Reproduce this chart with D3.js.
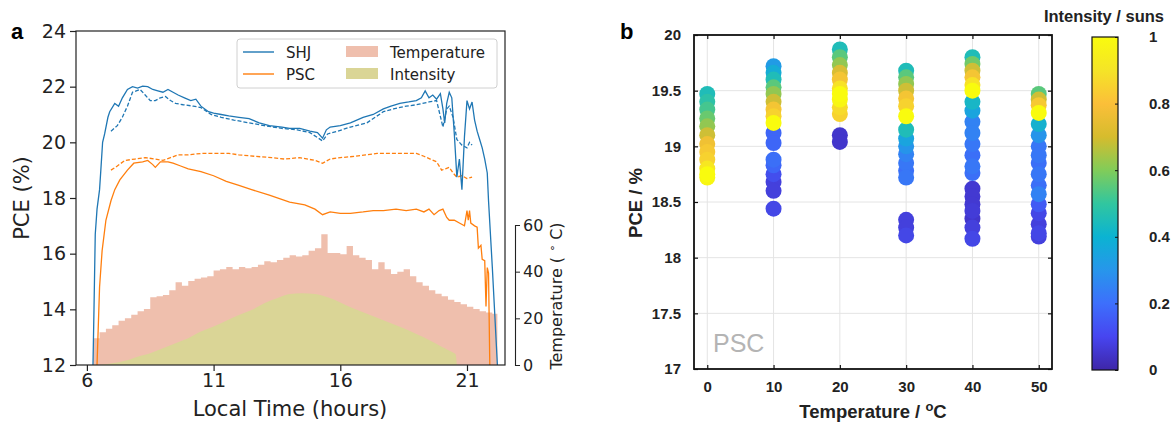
<!DOCTYPE html>
<html>
<head>
<meta charset="utf-8">
<script src="https://cdn.jsdelivr.net/npm/d3@7"></script>
<style>
  body { margin: 0; background: #fff; }
  svg { display: block; }
</style>
</head>
<body>
<div id="chart"></div>
<script>
// ---- panel a data: [hour, PCE %] ----
const shjSolid = [[6.24,12],[6.28,14],[6.33,16.7],[6.4,17.6],[6.5,18.3],[6.55,19],[6.62,20],[6.7,20.3],[6.83,20.9],[6.9,21.1],[7.1,21.4],[7.25,21.3],[7.4,21.6],[7.6,21.9],[7.8,22.0],[8.0,21.95],[8.2,22.02],[8.4,22.0],[8.6,21.9],[8.8,21.85],[9.0,21.8],[9.2,21.9],[9.4,21.8],[9.6,21.7],[9.85,21.6],[10.1,21.5],[10.3,21.55],[10.5,21.3],[10.8,21.1],[11.0,21.05],[11.3,21.0],[11.6,20.95],[12.0,20.9],[12.4,20.85],[12.8,20.7],[13.2,20.6],[13.7,20.55],[14.0,20.5],[14.4,20.5],[14.8,20.4],[15.1,20.35],[15.3,20.15],[15.45,20.45],[15.6,20.55],[16.0,20.6],[16.4,20.7],[16.9,20.9],[17.3,21.0],[17.7,21.2],[18.0,21.3],[18.35,21.4],[18.7,21.45],[19.0,21.5],[19.2,21.6],[19.35,21.85],[19.5,21.6],[19.65,21.7],[19.8,21.55],[19.95,21.75],[20.05,21.2],[20.12,20.7],[20.2,21.4],[20.3,21.8],[20.4,21.6],[20.5,20.3],[20.6,18.75],[20.7,19.4],[20.8,18.3],[20.9,20.2],[21.0,21.5],[21.1,21.2],[21.2,21.45],[21.3,20.8],[21.4,20.4],[21.5,20.1],[21.6,19.8],[21.7,19.4],[21.8,18.9],[21.85,17.9],[22.0,15.5],[22.2,12]];
const shjDash = [[6.95,20.4],[7.2,20.6],[7.4,20.9],[7.6,21.3],[7.8,21.8],[8.1,21.9],[8.3,21.7],[8.5,21.5],[8.7,21.5],[8.9,21.6],[9.1,21.65],[9.3,21.5],[9.5,21.4],[9.8,21.35],[10.2,21.3],[10.5,21.25],[10.9,21.0],[11.3,20.9],[11.8,20.8],[12.4,20.7],[13.0,20.6],[13.7,20.5],[14.3,20.45],[14.8,20.35],[15.3,20.05],[15.5,20.3],[15.9,20.4],[16.4,20.55],[17.05,20.7],[17.7,21.1],[18.1,21.2],[18.6,21.3],[19.0,21.35],[19.5,21.45],[19.8,21.5],[20.05,20.55],[20.2,21.2],[20.3,21.3],[20.45,20.9],[20.6,20.1],[20.8,19.9],[21.0,19.8],[21.1,20.0],[21.2,19.9]];
const pscSolid = [[6.4,12],[6.5,14.8],[6.6,16.1],[6.75,17.2],[6.95,17.9],[7.1,18.3],[7.3,18.65],[7.6,19.0],[7.85,19.25],[8.2,19.3],[8.4,19.35],[8.6,19.2],[8.7,19.1],[8.9,19.3],[9.2,19.3],[9.4,19.25],[9.7,19.15],[10.0,19.05],[10.5,18.95],[11.0,18.8],[11.5,18.6],[12.0,18.45],[12.5,18.3],[13.2,18.1],[14.0,17.85],[14.6,17.75],[15.0,17.6],[15.3,17.4],[15.6,17.5],[16.0,17.45],[16.4,17.45],[16.9,17.5],[17.3,17.55],[17.7,17.55],[18.2,17.6],[18.6,17.55],[19.0,17.6],[19.3,17.5],[19.5,17.6],[19.7,17.4],[19.9,17.55],[20.05,17.6],[20.2,17.3],[20.3,17.2],[20.5,17.2],[20.7,17.1],[20.9,17.0],[21.0,17.55],[21.05,17.2],[21.1,17.55],[21.15,17.1],[21.3,17.0],[21.4,16.95],[21.45,16.2],[21.55,16.3],[21.6,15.8],[21.7,15.75],[21.75,14.1],[21.8,15.5],[21.85,15.3],[21.9,12]];
const pscDash = [[6.95,19.0],[7.2,19.15],[7.5,19.35],[7.9,19.4],[8.3,19.45],[8.7,19.4],[9.0,19.35],[9.3,19.45],[9.6,19.55],[10.0,19.55],[10.5,19.6],[11.0,19.6],[11.6,19.6],[12.0,19.55],[12.6,19.5],[13.3,19.45],[13.8,19.4],[14.4,19.45],[15.0,19.35],[15.3,19.25],[15.6,19.4],[16.0,19.45],[16.6,19.5],[17.0,19.55],[17.45,19.6],[18.0,19.6],[18.5,19.6],[19.0,19.6],[19.3,19.5],[19.55,19.4],[19.8,19.3],[20.0,19.0],[20.15,19.05],[20.3,19.1],[20.45,18.9],[20.6,18.75],[20.8,18.8],[21.0,18.7],[21.2,18.75]];

// temperature [hour, °C] (step) and intensity [hour, suns]
const temperature = [[6.25,11.5],[6.5,14],[6.75,15.5],[7.0,17],[7.25,19],[7.5,20],[7.75,21.5],[8.0,23],[8.25,24],[8.5,29],[8.75,29.5],[9.0,30],[9.25,32],[9.5,35.5],[9.75,34],[10.0,36],[10.25,37],[10.5,37.5],[10.75,38],[11.0,40.5],[11.25,41],[11.5,42],[11.75,41],[12.0,42],[12.25,41.5],[12.5,42],[12.75,43],[13.0,44.5],[13.25,44],[13.5,45],[13.75,46],[14.0,47],[14.25,46.5],[14.5,47],[14.75,49],[15.0,50],[15.25,56],[15.5,48],[15.75,48],[16.0,47.5],[16.25,51],[16.5,47],[16.75,46],[17.0,45],[17.25,41],[17.5,44],[17.75,41],[18.0,39],[18.25,40],[18.5,41],[18.75,38],[19.0,35.5],[19.25,34],[19.5,32],[19.75,30.5],[20.0,29.5],[20.25,28],[20.5,27],[20.75,26],[21.0,25],[21.25,24],[21.5,23],[21.75,22.5],[22.0,22],[22.2,22]];
const intensity = [[6.5,0],[7,0.02],[7.5,0.05],[8,0.1],[8.5,0.14],[9,0.2],[9.5,0.26],[10,0.32],[10.5,0.4],[11,0.46],[11.5,0.53],[12,0.6],[12.5,0.66],[13,0.74],[13.5,0.8],[14,0.85],[14.5,0.86],[15,0.85],[15.5,0.81],[16,0.75],[16.5,0.68],[17,0.62],[17.5,0.56],[18,0.5],[18.5,0.44],[19,0.37],[19.5,0.3],[20,0.22],[20.5,0.14],[20.55,0.13],[20.6,0]];

const pceTicks = [12, 14, 16, 18, 20, 22, 24];
const hourTicks = [6, 11, 16, 21];
const tempTicks = [0, 20, 40, 60];

// ---- panel b data: [PCE %, intensity suns] per temperature ----
const psc0 = [[19.47,0.45],[19.4,0.48],[19.33,0.52],[19.25,0.57],[19.18,0.62],[19.1,0.7],[19.02,0.78],[18.95,0.82],[18.88,0.85],[18.8,0.92],[18.75,1.0],[18.72,0.98]];
const psc10 = [[19.72,0.32],[19.66,0.38],[19.6,0.45],[19.53,0.55],[19.47,0.62],[19.4,0.7],[19.33,0.8],[19.27,0.85],[19.21,1.0],[19.12,0.18],[19.03,0.18],[18.88,0.2],[18.83,0.18],[18.75,0.12],[18.68,0.08],[18.6,0.08],[18.44,0.1]];
const psc20 = [[19.87,0.45],[19.8,0.55],[19.73,0.62],[19.66,0.72],[19.6,0.8],[19.52,0.9],[19.47,1.0],[19.42,0.98],[19.35,0.88],[19.29,0.85],[19.1,0.05],[19.04,0.05]];
const psc30 = [[19.68,0.45],[19.62,0.55],[19.56,0.62],[19.5,0.7],[19.43,0.8],[19.36,0.85],[19.27,1.0],[19.15,0.45],[19.07,0.35],[19.0,0.3],[18.93,0.25],[18.85,0.22],[18.78,0.2],[18.72,0.22],[18.34,0.08],[18.27,0.08],[18.2,0.1]];
const psc40 = [[19.8,0.45],[19.74,0.58],[19.68,0.7],[19.62,0.8],[19.55,0.9],[19.5,1.0],[19.4,0.42],[19.32,0.35],[19.22,0.25],[19.12,0.25],[19.02,0.22],[18.92,0.2],[18.82,0.22],[18.76,0.2],[18.62,0.06],[18.55,0.06],[18.48,0.06],[18.42,0.07],[18.35,0.05],[18.27,0.08],[18.17,0.1]];
const psc50 = [[19.47,0.55],[19.42,0.7],[19.37,0.82],[19.3,1.0],[19.2,0.4],[19.1,0.3],[19.0,0.22],[18.92,0.22],[18.85,0.2],[18.75,0.22],[18.65,0.2],[18.57,0.25],[18.48,0.15],[18.4,0.1],[18.3,0.08],[18.22,0.1],[18.19,0.08]];
const scatterTemps = [0, 10, 20, 30, 40, 50];
const pceTicksB = [17, 17.5, 18, 18.5, 19, 19.5, 20];
const cbarTicks = [0, 0.2, 0.4, 0.6, 0.8, 1];

// parula-like colormap anchors
const parula = ["#3e26a8", "#4745f0", "#3d6ffc", "#2796eb", "#0bb3d2", "#31c69f", "#81cc59", "#d6bc2d", "#fbbf39", "#f5e427", "#f9fb0e"];
const cmap = d3.scaleSequential(d3.interpolateRgbBasis(parula)).domain([0, 1]);

const W = 1173, H = 423;
const svg = d3.select('#chart').append('svg')
  .attr('width', W).attr('height', H)
  .style('font-family', 'DejaVu Sans');
svg.append('rect').attr('width', W).attr('height', H).attr('fill', '#fff');

// ================= panel a =================
const a = { left: 76, right: 505, top: 31, bottom: 365 };
const xA = d3.scaleLinear().domain([5.57, 22.5]).range([a.left, a.right]);
const yA = d3.scaleLinear().domain([12, 24]).range([a.bottom, a.top]);
const yT = d3.scaleLinear().domain([0, 60]).range([a.bottom, 225]);
const yI = d3.scaleLinear().domain([0, 1]).range([a.bottom, a.bottom - 83.5]);

svg.append('clipPath').attr('id', 'clipA')
  .append('rect').attr('x', a.left).attr('y', a.top)
  .attr('width', a.right - a.left).attr('height', a.bottom - a.top);
const gA = svg.append('g').attr('clip-path', 'url(#clipA)');

gA.append('path').datum(temperature)
  .attr('d', d3.area().curve(d3.curveStepAfter)
    .x(d => xA(d[0])).y0(yT(0)).y1(d => yT(d[1])))
  .attr('fill', '#efbfad');
gA.append('path').datum(intensity)
  .attr('d', d3.area().curve(d3.curveMonotoneX).x(d => xA(d[0])).y0(yI(0)).y1(d => yI(d[1])))
  .attr('fill', '#dad596');

const lineA = d3.line().x(d => xA(d[0])).y(d => yA(d[1]));
const series = [
  { data: shjDash, color: '#1f77b4', dash: '4,2' },
  { data: pscDash, color: '#ff7f0e', dash: '4,2' },
  { data: shjSolid, color: '#1f77b4', dash: null },
  { data: pscSolid, color: '#ff7f0e', dash: null },
];
series.forEach(s => {
  gA.append('path').datum(s.data)
    .attr('d', lineA)
    .attr('fill', 'none')
    .attr('stroke', s.color)
    .attr('stroke-width', 1.3)
    .attr('stroke-dasharray', s.dash);
});

// axes
const axL = svg.append('g').attr('transform', `translate(${a.left},0)`)
  .call(d3.axisLeft(yA).tickValues(pceTicks).tickSize(6).tickPadding(4).tickFormat(d3.format('d')));
const axB = svg.append('g').attr('transform', `translate(0,${a.bottom})`)
  .call(d3.axisBottom(xA).tickValues(hourTicks).tickSize(6).tickPadding(3).tickFormat(d3.format('d')));
[axL, axB].forEach(g => {
  g.select('.domain').remove();
  g.selectAll('line').attr('stroke', '#222').attr('stroke-width', 1.2);
  g.selectAll('text').attr('font-size', 19).attr('fill', '#222').attr('font-family', 'DejaVu Sans');
});
svg.append('rect').attr('x', a.left).attr('y', a.top)
  .attr('width', a.right - a.left).attr('height', a.bottom - a.top)
  .attr('fill', 'none').attr('stroke', '#222').attr('stroke-width', 1.2);

const axR = svg.append('g').attr('transform', 'translate(515,0)')
  .call(d3.axisRight(yT).tickValues(tempTicks).tickSize(5).tickPadding(3).tickFormat(d3.format('d')));
axR.select('.domain').attr('stroke', '#222').attr('stroke-width', 1.1);
axR.selectAll('line').attr('stroke', '#222');
axR.selectAll('text').attr('font-size', 16).attr('fill', '#222').attr('font-family', 'DejaVu Sans');

svg.append('text').attr('x', 290).attr('y', 416).attr('text-anchor', 'middle')
  .attr('font-size', 21).attr('fill', '#222').text('Local Time (hours)');
svg.append('text').attr('transform', 'translate(29,198) rotate(-90)').attr('text-anchor', 'middle')
  .attr('font-size', 21).attr('fill', '#222').text('PCE (%)');
const tl = svg.append('text').attr('transform', 'translate(562,296) rotate(-90)').attr('text-anchor', 'middle')
  .attr('font-size', 16).attr('fill', '#222');
tl.append('tspan').text('Temperature ( ');
tl.append('tspan').attr('dy', -6).attr('font-size', 11).text('∘');
tl.append('tspan').attr('dy', 6).text(' C)');

svg.append('text').attr('x', 11).attr('y', 39).attr('font-size', 22).attr('font-weight', 'bold')
  .attr('font-family', 'Liberation Sans').text('a');

// legend
const leg = svg.append('g');
leg.append('rect').attr('x', 237).attr('y', 39).attr('width', 260).attr('height', 49).attr('rx', 3)
  .attr('fill', '#fff').attr('fill-opacity', 0.8).attr('stroke', '#d0d0d0');
const legLines = [{ label: 'SHJ', color: '#1f77b4', y: 52 }, { label: 'PSC', color: '#ff7f0e', y: 74 }];
legLines.forEach(l => {
  leg.append('line').attr('x1', 243).attr('x2', 274).attr('y1', l.y).attr('y2', l.y)
    .attr('stroke', l.color).attr('stroke-width', 1.4);
  leg.append('text').attr('x', 286).attr('y', l.y + 5.5).attr('font-size', 15).attr('fill', '#222').text(l.label);
});
const legPatches = [{ label: 'Temperature', color: '#efbfad', y: 52 }, { label: 'Intensity', color: '#dad596', y: 74 }];
legPatches.forEach(l => {
  leg.append('rect').attr('x', 346).attr('y', l.y - 6).attr('width', 32).attr('height', 11).attr('fill', l.color);
  leg.append('text').attr('x', 390).attr('y', l.y + 5.5).attr('font-size', 15).attr('fill', '#222').text(l.label);
});

// ================= panel b =================
const b = { left: 694, right: 1052, top: 35, bottom: 369 };
const xB = d3.scaleLinear().domain([-2, 52]).range([b.left, b.right]);
const yB = d3.scaleLinear().domain([17, 20]).range([b.bottom, b.top]);
const fontB = 'Liberation Sans';

const grid = svg.append('g');
scatterTemps.forEach(t => grid.append('line').attr('x1', xB(t)).attr('x2', xB(t))
  .attr('y1', b.top).attr('y2', b.bottom).attr('stroke', '#e4e4e4'));
pceTicksB.forEach(p => grid.append('line').attr('x1', b.left).attr('x2', b.right)
  .attr('y1', yB(p)).attr('y2', yB(p)).attr('stroke', '#e4e4e4'));

svg.append('text').attr('x', 713).attr('y', 352).attr('font-size', 25)
  .attr('font-family', fontB).attr('fill', '#b4b4b4').text('PSC');

const groups = [psc0, psc10, psc20, psc30, psc40, psc50];
const dots = [];
groups.forEach((g, i) => g.forEach(d => dots.push({ t: scatterTemps[i], pce: d[0], sun: d[1] })));
dots.sort((p, q) => p.sun - q.sun);
svg.append('g').selectAll('circle').data(dots).enter().append('circle')
  .attr('cx', d => xB(d.t)).attr('cy', d => yB(d.pce)).attr('r', 8)
  .attr('fill', d => cmap(d.sun));

const bL = svg.append('g').attr('transform', `translate(${b.left},0)`)
  .call(d3.axisLeft(yB).tickValues(pceTicksB).tickSize(-4).tickPadding(13).tickFormat(d => d));
const bB = svg.append('g').attr('transform', `translate(0,${b.bottom})`)
  .call(d3.axisBottom(xB).tickValues(scatterTemps).tickSize(-4).tickPadding(12));
const bR = svg.append('g').attr('transform', `translate(${b.right},0)`)
  .call(d3.axisRight(yB).tickValues(pceTicksB).tickSize(-4).tickFormat(''));
const bT = svg.append('g').attr('transform', `translate(0,${b.top})`)
  .call(d3.axisTop(xB).tickValues(scatterTemps).tickSize(-4).tickFormat(''));
[bL, bB, bR, bT].forEach(g => {
  g.select('.domain').remove();
  g.selectAll('line').attr('stroke', '#111').attr('stroke-width', 1.2);
  g.selectAll('text').attr('font-size', 15).attr('font-weight', 'bold')
    .attr('font-family', fontB).attr('fill', '#222');
});
svg.append('rect').attr('x', b.left).attr('y', b.top)
  .attr('width', b.right - b.left).attr('height', b.bottom - b.top)
  .attr('fill', 'none').attr('stroke', '#111').attr('stroke-width', 1.8);

const xl = svg.append('text').attr('x', 873).attr('y', 418).attr('text-anchor', 'middle')
  .attr('font-size', 18.5).attr('font-weight', 'bold').attr('font-family', fontB).attr('fill', '#222');
xl.append('tspan').text('Temperature / ');
xl.append('tspan').attr('dy', -7).attr('font-size', 13).text('o');
xl.append('tspan').attr('dy', 7).text('C');
svg.append('text').attr('transform', 'translate(642,203) rotate(-90)').attr('text-anchor', 'middle')
  .attr('font-size', 18.5).attr('font-weight', 'bold').attr('font-family', fontB).attr('fill', '#222')
  .text('PCE / %');
svg.append('text').attr('x', 620).attr('y', 39).attr('font-size', 22).attr('font-weight', 'bold')
  .attr('font-family', fontB).text('b');

// colorbar
const cb = { left: 1092, right: 1118, top: 37, bottom: 370 };
const yC = d3.scaleLinear().domain([0, 1]).range([cb.bottom, cb.top]);
const grad = svg.append('defs').append('linearGradient').attr('id', 'parula')
  .attr('x1', 0).attr('x2', 0).attr('y1', 1).attr('y2', 0);
parula.forEach((c, i) => grad.append('stop')
  .attr('offset', i / (parula.length - 1)).attr('stop-color', c));
svg.append('rect').attr('x', cb.left).attr('y', cb.top)
  .attr('width', cb.right - cb.left).attr('height', cb.bottom - cb.top)
  .attr('fill', 'url(#parula)').attr('stroke', '#111').attr('stroke-width', 1.2);
const cbAx = svg.append('g').attr('transform', `translate(${cb.right},0)`)
  .call(d3.axisRight(yC).tickValues(cbarTicks).tickSize(-3).tickPadding(31).tickFormat(d => d));
cbAx.select('.domain').remove();
cbAx.selectAll('line').attr('stroke', '#111');
cbAx.selectAll('text').attr('font-size', 15).attr('font-weight', 'bold')
  .attr('font-family', fontB).attr('fill', '#222');
svg.append('text').attr('x', 1104).attr('y', 22).attr('text-anchor', 'middle')
  .attr('font-size', 16.5).attr('font-weight', 'bold').attr('font-family', fontB).attr('fill', '#222')
  .text('Intensity / suns');
</script>
</body>
</html>
